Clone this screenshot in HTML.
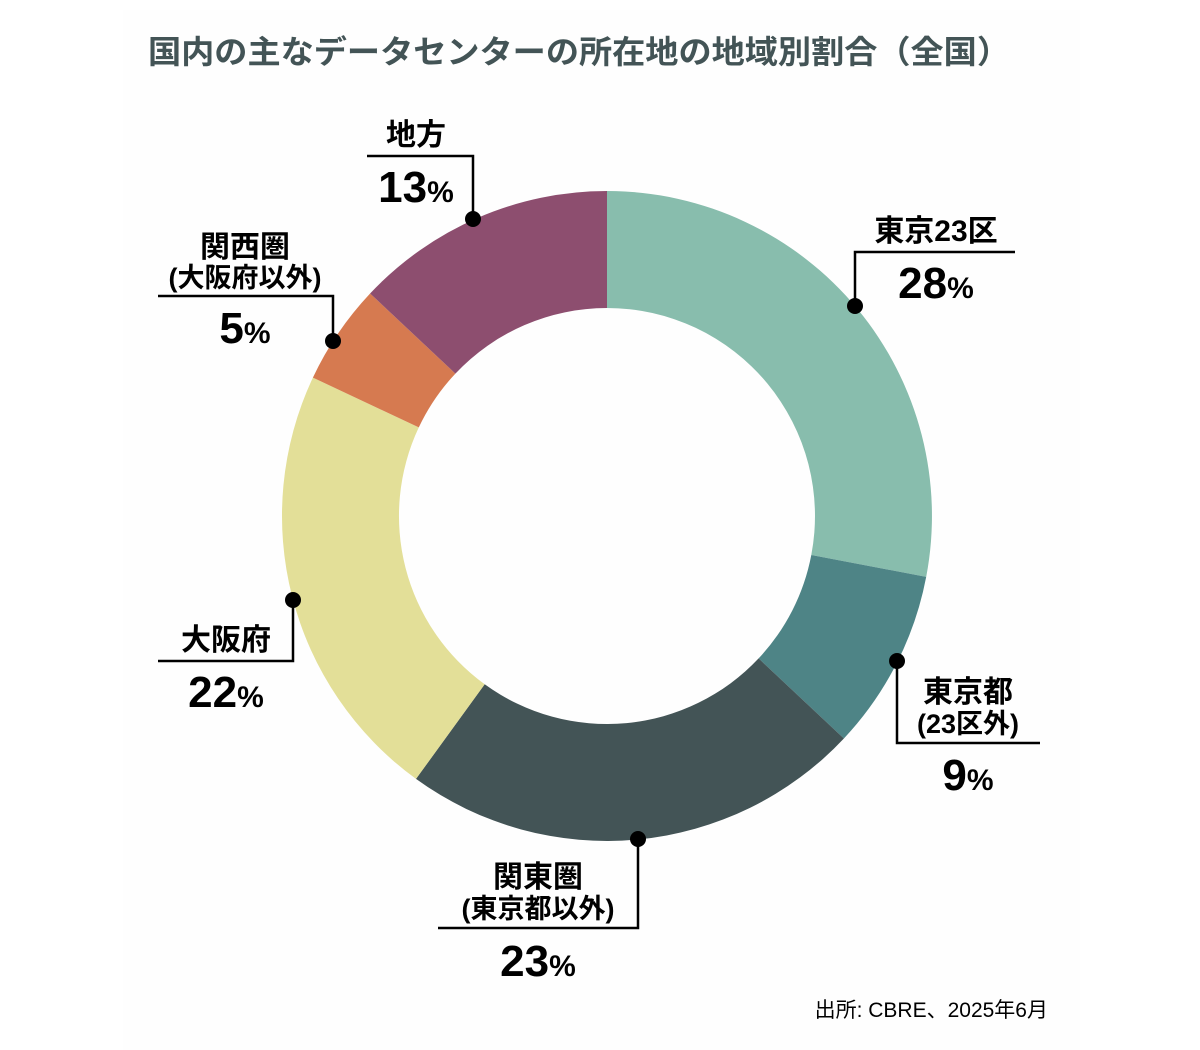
<!DOCTYPE html>
<html><head><meta charset="utf-8"><style>
body{margin:0;background:#fff;}
svg{display:block;}
text{font-family:"Liberation Sans","Noto Sans CJK JP",sans-serif;}
</style></head><body>
<svg width="1200" height="1050" viewBox="0 0 1200 1050" xmlns="http://www.w3.org/2000/svg">
<rect x="123" y="10" width="957" height="1040" fill="#fefefe"/>
<text x="148" y="63" textLength="862" lengthAdjust="spacingAndGlyphs" font-size="32" font-weight="bold" fill="#435456">国内の主なデータセンターの所在地の地域別割合（全国）</text>
<path d="M607,191 A325,325 0 0 1 926.2,576.9 L811.3,555.0 A208,208 0 0 0 607,308 Z" fill="#88bdad"/>
<path d="M926.2,576.9 A325,325 0 0 1 843.9,738.5 L758.6,658.4 A208,208 0 0 0 811.3,555.0 Z" fill="#4e8486"/>
<path d="M843.9,738.5 A325,325 0 0 1 416.0,778.9 L484.7,684.3 A208,208 0 0 0 758.6,658.4 Z" fill="#435456"/>
<path d="M416.0,778.9 A325,325 0 0 1 312.9,377.6 L418.8,427.4 A208,208 0 0 0 484.7,684.3 Z" fill="#e3df98"/>
<path d="M312.9,377.6 A325,325 0 0 1 370.1,293.5 L455.4,373.6 A208,208 0 0 0 418.8,427.4 Z" fill="#d67a50"/>
<path d="M370.1,293.5 A325,325 0 0 1 607,191 L607,308 A208,208 0 0 0 455.4,373.6 Z" fill="#8d4e6f"/>
<g stroke="#000" stroke-width="2.5" fill="none">
<polyline points="855,306 855,252 1015,252"/>
<polyline points="897,661 897,743 1040,743"/>
<polyline points="638,839 638,928 438,928"/>
<polyline points="293,600 293,661 158,661"/>
<polyline points="333,341 333,296 158,296"/>
<polyline points="473,219 473,156 367,156"/>
</g>
<g fill="#000">
<circle cx="855" cy="306" r="8"/><circle cx="897" cy="661" r="8"/><circle cx="638" cy="839" r="8"/>
<circle cx="293" cy="600" r="8"/><circle cx="333" cy="341" r="8"/><circle cx="473" cy="219" r="8"/>
</g>
<g font-weight="bold" text-anchor="middle" fill="#000">
<text x="936" y="241" font-size="30">東京23区</text>
<text x="936" y="298" font-size="44">28<tspan font-size="30">%</tspan></text>
<text x="968" y="702" font-size="30">東京都</text>
<text x="968" y="733" font-size="27">(23区外)</text>
<text x="968" y="790" font-size="44">9<tspan font-size="30">%</tspan></text>
<text x="538" y="887" font-size="30">関東圏</text>
<text x="538" y="918" font-size="27">(東京都以外)</text>
<text x="538" y="976" font-size="44">23<tspan font-size="30">%</tspan></text>
<text x="226" y="650" font-size="30">大阪府</text>
<text x="226" y="707" font-size="44">22<tspan font-size="30">%</tspan></text>
<text x="245" y="257" font-size="30">関西圏</text>
<text x="245" y="287" font-size="27">(大阪府以外)</text>
<text x="245" y="343" font-size="44">5<tspan font-size="30">%</tspan></text>
<text x="416" y="145" font-size="30">地方</text>
<text x="416" y="202" font-size="44">13<tspan font-size="30">%</tspan></text>
</g>
<text x="1048" y="1017" text-anchor="end" font-size="21" fill="#000">出所: CBRE、2025年6月</text>
</svg>
</body></html>
